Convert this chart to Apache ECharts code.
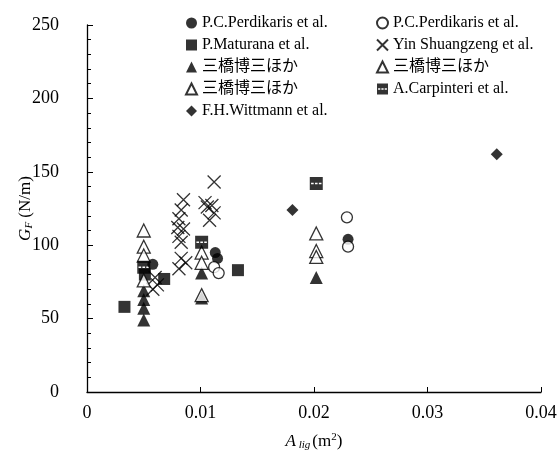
<!DOCTYPE html>
<html>
<head>
<meta charset="utf-8">
<script src="https://cdn.jsdelivr.net/npm/echarts@6/dist/echarts.min.js"></script>
<style>html,body{margin:0;padding:0;background:#fff}#c{width:558px;height:467px}</style>
</head>
<body>
<div id="c"></div>
<script>
// ---- data (x = A_lig in m^2, y = G_F in N/m) ----
const perdikarisFilled = [[0.0058, 87], [0.0113, 95], [0.0115, 91], [0.0230, 104]];
const perdikarisOpen = [[0.0112, 85], [0.0116, 81], [0.0229, 119], [0.0230, 99]];
const maturana = [[0.0033, 58], [0.0068, 77], [0.0133, 83], [0.0051, 80]];
const yinShuangzeng = [
  [0.0112, 143], [0.0085, 131], [0.0104, 129], [0.0110, 127], [0.0106, 126],
  [0.0112, 122], [0.0108, 117], [0.0083, 124], [0.0081, 118], [0.0080, 112],
  [0.0085, 111], [0.0081, 106], [0.0083, 102], [0.0083, 91], [0.0087, 88],
  [0.0081, 84], [0.0060, 78], [0.0062, 73], [0.0058, 70]
];
const mitsuhashiFilled = [[0.0050, 69], [0.0050, 63], [0.0050, 57], [0.0050, 49], [0.0101, 81], [0.0101, 64], [0.0202, 78]];
const mitsuhashiOpenA = [[0.0050, 110], [0.0050, 99], [0.0101, 95], [0.0202, 108], [0.0101, 66]];
const mitsuhashiOpenB = [[0.0050, 93], [0.0050, 76], [0.0101, 88], [0.0202, 96], [0.0202, 92]];
const carpinteri = [[0.0050, 85], [0.0101, 102], [0.0202, 142]];
const wittmann = [[0.0181, 124], [0.0361, 162]];

const legendLabels = {
  pcF: 'P.C.Perdikaris et al.',
  pcO: 'P.C.Perdikaris et al.',
  mat: 'P.Maturana et al.',
  yin: 'Yin Shuangzeng et al.',
  triF: '三橋博三ほか',
  triA: '三橋博三ほか',
  triB: '三橋博三ほか',
  carp: 'A.Carpinteri et al.',
  wit: 'F.H.Wittmann et al.'
};
const xTicks = ['0', '0.01', '0.02', '0.03', '0.04'];

const serif = '"Liberation Serif", "Times New Roman", "Noto Sans CJK JP", serif';
const crossPath = 'path://M0,0 L10,10 M10,0 L0,10';
const carpPath = 'path://M0,0 L10,0 L10,10 L0,10 Z M1,4.4 L1,5.6 L3,5.6 L3,4.4 Z M4,4.4 L4,5.6 L6,5.6 L6,4.4 Z M7,4.4 L7,5.6 L9,5.6 L9,4.4 Z';

const filled = { color: '#000' };
const open = { color: '#fff', borderColor: '#000', borderWidth: 1.3 };

const chart = echarts.init(document.getElementById('c'), null, { renderer: 'canvas' });
const legendCommon = {
  orient: 'vertical',
  itemWidth: 11,
  itemHeight: 11,
  itemGap: 6,
  selectedMode: false,
  formatter: n => legendLabels[n],
  textStyle: { fontFamily: serif, fontSize: 16, color: '#000' }
};
chart.setOption({
  animation: false,
  backgroundColor: '#fff',
  grid: { left: 87, right: 17, top: 25, bottom: 75, containLabel: false, outerBoundsMode: 'none' },
  legend: [
    Object.assign({ left: 180, top: 10, data: ['pcF', 'mat', 'triF', 'triA', 'wit'] }, legendCommon),
    Object.assign({ left: 371, top: 10, data: ['pcO', 'yin', 'triB', 'carp'] }, legendCommon)
  ],
  xAxis: {
    type: 'value', min: 0, max: 0.04, interval: 0.01,
    splitLine: { show: false },
    axisLine: { onZero: false, lineStyle: { color: '#000', width: 1.3 } },
    axisTick: { inside: true, length: 5, lineStyle: { color: '#000' } },
    axisLabel: {
      margin: 12, fontFamily: serif, fontSize: 18, color: '#000',
      formatter: (v) => xTicks[Math.round(v / 0.01)]
    },
    name: '{i|A}{s| lig}{n|(m}{sup|2}{n|)}',
    nameLocation: 'middle', nameGap: 40, nameMoveOverlap: false,
    nameTextStyle: {
      rich: {
        i: { fontFamily: serif, fontStyle: 'italic', fontSize: 17, color: '#000' },
        s: { fontFamily: serif, fontStyle: 'italic', fontSize: 11, color: '#000', padding: [8, 2, 0, 0] },
        n: { fontFamily: serif, fontSize: 17, color: '#000' },
        sup: { fontFamily: serif, fontSize: 11, color: '#000', padding: [0, 0, 8, 0] }
      }
    }
  },
  yAxis: {
    type: 'value', min: 0, max: 250, interval: 50,
    splitLine: { show: false },
    axisLine: { show: true, lineStyle: { color: '#000', width: 1.3 } },
    axisTick: { inside: true, length: 6, lineStyle: { color: '#000' } },
    minorTick: { show: true, splitNumber: 5, length: 4, lineStyle: { color: '#000' } },
    axisLabel: { margin: 28, fontFamily: serif, fontSize: 18, color: '#000' },
    name: '{i|G}{s|F}{n| (N/m)}',
    nameLocation: 'middle', nameGap: 52, nameRotate: 90, nameMoveOverlap: false,
    nameTextStyle: {
      rich: {
        i: { fontFamily: serif, fontStyle: 'italic', fontSize: 17, color: '#000' },
        s: { fontFamily: serif, fontStyle: 'italic', fontSize: 11, color: '#000', padding: [7, 0, 0, 0] },
        n: { fontFamily: serif, fontSize: 17, color: '#000' }
      }
    }
  },
  series: [
    { name: 'pcF', type: 'scatter', data: perdikarisFilled, symbol: 'circle', symbolSize: 11, itemStyle: filled },
    { name: 'pcO', type: 'scatter', data: perdikarisOpen, symbol: 'circle', symbolSize: 11, itemStyle: open },
    { name: 'mat', type: 'scatter', data: maturana, symbol: 'rect', symbolSize: 12, itemStyle: filled },
    { name: 'yin', type: 'scatter', data: yinShuangzeng, symbol: crossPath, symbolSize: 13,
      itemStyle: { color: 'rgba(0,0,0,0)', borderColor: '#000', borderWidth: 1.3 } },
    { name: 'triF', type: 'scatter', data: mitsuhashiFilled, symbol: 'triangle', symbolSize: 13, itemStyle: filled },
    { name: 'triA', type: 'scatter', data: mitsuhashiOpenA, symbol: 'triangle', symbolSize: 13, itemStyle: open },
    { name: 'triB', type: 'scatter', data: mitsuhashiOpenB, symbol: 'triangle', symbolSize: 13, itemStyle: open },
    { name: 'carp', type: 'scatter', data: carpinteri, symbol: carpPath, symbolSize: 13, itemStyle: filled },
    { name: 'wit', type: 'scatter', data: wittmann, symbol: 'diamond', symbolSize: 12, itemStyle: filled }
  ]
});
</script>
</body>
</html>
